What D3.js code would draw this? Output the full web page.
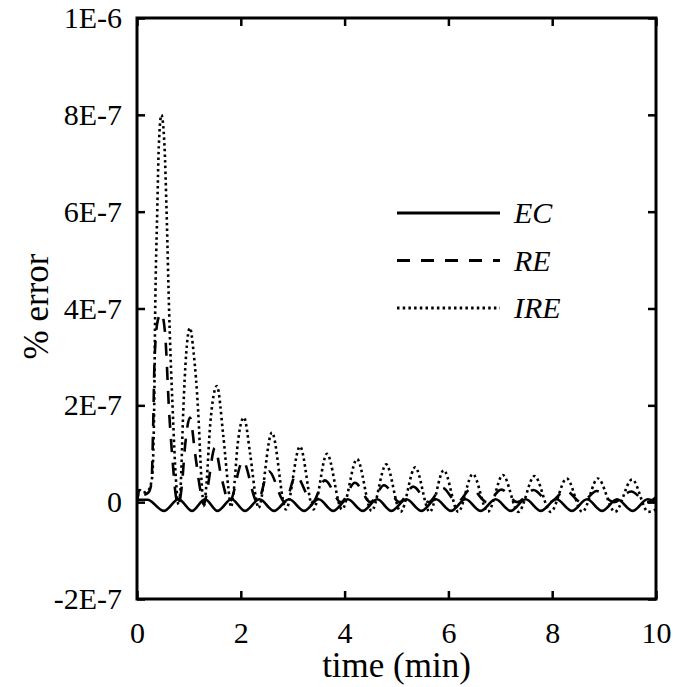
<!DOCTYPE html>
<html>
<head>
<meta charset="utf-8">
<script src="https://cdn.jsdelivr.net/npm/d3@7/dist/d3.min.js"></script>
<style>
  body { margin: 0; background: #fff; }
</style>
</head>
<body>
<div id="chart"></div>
<script>
// values in units of 1E-7 %, time in minutes
const ecData = [[0,0.05],[0.2,0.05],[0.52,-0.18],[0.8,0.06],[1.06,-0.18],[1.31,0.06],[1.55,-0.18],
  [1.82,0.06],[2.08,-0.18],[2.36,0.06],[2.64,-0.18],[2.93,0.06],[3.22,-0.18],[3.5,0.06],[3.78,-0.18],
  [4.06,0.06],[4.35,-0.18],[4.63,0.06],[4.9,-0.18],[5.19,0.06],[5.48,-0.18],[5.76,0.06],[6.05,-0.18],
  [6.33,0.06],[6.62,-0.18],[6.91,0.06],[7.2,-0.18],[7.49,0.06],[7.78,-0.18],[8.08,0.06],[8.38,-0.18],
  [8.67,0.06],[8.96,-0.18],[9.25,0.06],[9.55,-0.18],[9.84,0.06],[10,0.0]];

const reData = [[0,0.0],[0.06,0.3],[0.12,0.15],[0.22,0.2],[0.28,0.4],[0.31,1.5],[0.34,3.0],[0.40,3.75],
  [0.47,3.9],[0.54,3.5],[0.62,1.85],[0.69,0.8],[0.74,0.2],[0.80,-0.05],
  [0.86,0.3],[0.93,1.2],[1.02,1.75],[1.12,1.0],[1.22,0.25],[1.29,-0.05],
  [1.36,0.3],[1.50,1.12],[1.63,0.5],[1.78,0.0],
  [2.04,0.85],[2.32,0.0],[2.54,0.64],[2.85,0.0],[3.06,0.55],[3.38,0.0],[3.62,0.45],[3.93,0.0],
  [4.2,0.4],[4.5,0.0],[4.76,0.35],[5.06,0.0],[5.32,0.32],[5.62,0.0],[5.88,0.3],[6.17,0.0],
  [6.44,0.28],[6.74,0.0],[7.02,0.26],[7.33,0.0],[7.64,0.25],[7.95,0.0],[8.26,0.24],[8.56,0.0],
  [8.86,0.23],[9.19,0.0],[9.52,0.22],[9.83,0.0],[10,0.1]];

const ireData = [[0,0.0],[0.05,0.25],[0.12,0.2],[0.22,0.25],[0.29,0.5],[0.33,1.85],[0.35,3.9],[0.39,6.0],
  [0.42,7.35],[0.47,8.0],[0.53,7.35],[0.57,6.0],[0.62,3.9],[0.69,1.85],[0.75,0.47],[0.80,-0.05],
  [0.84,0.3],[0.89,1.85],[0.95,3.1],[1.02,3.6],[1.09,3.1],[1.18,1.85],[1.24,0.5],[1.29,-0.08],
  [1.34,0.4],[1.41,1.6],[1.54,2.4],[1.66,1.4],[1.76,0.3],[1.81,-0.1],
  [1.87,0.3],[1.94,1.2],[2.06,1.75],[2.18,1.0],[2.29,0.1],[2.34,-0.12],
  [2.6,1.44],[2.87,-0.15],[3.14,1.15],[3.40,-0.15],[3.66,1.0],[3.95,-0.15],[4.24,0.89],[4.52,-0.18],
  [4.80,0.78],[5.08,-0.2],[5.36,0.72],[5.64,-0.2],[5.91,0.66],[6.19,-0.2],[6.47,0.58],[6.76,-0.2],
  [7.05,0.56],[7.35,-0.2],[7.66,0.54],[7.97,-0.2],[8.28,0.49],[8.58,-0.2],[8.88,0.49],[9.21,-0.2],
  [9.54,0.47],[9.85,-0.2],[10,-0.15]];

const seriesNames = ["EC", "RE", "IRE"];
const xTicks = [0, 2, 4, 6, 8, 10];
const yTicks = [-2, 0, 2, 4, 6, 8, 10];
const yTickLabels = ["-2E-7", "0", "2E-7", "4E-7", "6E-7", "8E-7", "1E-6"];

const FONT = "'Liberation Serif', 'Times New Roman', Times, serif";
const width = 673, height = 687,
  margin = { top: 18, right: 17, bottom: 88, left: 137 };

const svg = d3.select("#chart").append("svg")
  .attr("width", width).attr("height", height)
  .style("font-family", FONT);

let xScale = d3.scaleLinear().domain([0, 10]).range([margin.left, width - margin.right]);
let yScale = d3.scaleLinear().domain([-2, 10]).range([height - margin.bottom, margin.top]);

svg.append("clipPath").attr("id", "plot")
  .append("rect")
  .attr("x", margin.left).attr("y", margin.top)
  .attr("width", width - margin.left - margin.right)
  .attr("height", height - margin.top - margin.bottom);

// Lines
let line = d3.line()
  .x(d => xScale(d[0]))
  .y(d => yScale(d[1]))
  .curve(d3.curveMonotoneX);

const styles = [
  { dash: null, w: 2.6 },
  { dash: "13,11", w: 2.6 },
  { dash: "2.5,3.2", w: 2.6 }
];
const allData = [ecData, reData, ireData];

const g = svg.append("g").attr("clip-path", "url(#plot)");
for (let i = 0; i < allData.length; ++i) {
  g.append("path")
    .attr("d", line(allData[i]))
    .attr("fill", "none")
    .attr("stroke", "#000")
    .attr("stroke-width", styles[i].w)
    .attr("stroke-dasharray", styles[i].dash);
}

// Axes (ticks point inward on every side)
const fmtY = d => yTickLabels[yTicks.indexOf(d)];
function styleAxis(sel) {
  sel.attr("font-family", null).attr("font-size", null);
  sel.select(".domain").remove();
  sel.selectAll(".tick line").attr("stroke-width", 2.5);
  sel.selectAll("text").style("font-size", "30px").style("font-family", FONT);
}

svg.append("g")
  .attr("transform", "translate(0," + yScale(-2) + ")")
  .call(d3.axisBottom(xScale).tickValues(xTicks).tickSize(-8).tickPadding(23).tickFormat(d3.format("d")))
  .call(styleAxis);
svg.append("g")
  .attr("transform", "translate(0," + yScale(10) + ")")
  .call(d3.axisTop(xScale).tickValues(xTicks).tickSize(-8).tickFormat(""))
  .call(styleAxis);
svg.append("g")
  .attr("transform", "translate(" + xScale(0) + ",0)")
  .call(d3.axisLeft(yScale).tickValues(yTicks).tickSize(-8).tickPadding(15).tickFormat(fmtY))
  .call(styleAxis);
svg.append("g")
  .attr("transform", "translate(" + xScale(10) + ",0)")
  .call(d3.axisRight(yScale).tickValues(yTicks).tickSize(-8).tickFormat(""))
  .call(styleAxis);

// Frame
svg.append("rect")
  .attr("x", xScale(0)).attr("y", yScale(10))
  .attr("width", xScale(10) - xScale(0))
  .attr("height", yScale(-2) - yScale(10))
  .attr("fill", "none").attr("stroke", "#000").attr("stroke-width", 3);

// Axis titles
svg.append("text")
  .attr("x", (xScale(0) + xScale(10)) / 2).attr("y", 677)
  .attr("text-anchor", "middle")
  .style("font-family", FONT).style("font-size", "35px")
  .text("time (min)");
svg.append("text")
  .attr("transform", "translate(48," + (yScale(4) - 2) + ") rotate(-90)")
  .attr("text-anchor", "middle")
  .style("font-family", FONT).style("font-size", "35px")
  .text("% error");

// Legend
for (let i = 0; i < seriesNames.length; ++i) {
  const ly = 213 + i * 47.5;
  svg.append("line")
    .attr("x1", 397).attr("x2", 500)
    .attr("y1", ly).attr("y2", ly)
    .attr("stroke", "#000").attr("stroke-width", 3)
    .attr("stroke-dasharray", styles[i].dash);
  svg.append("text")
    .attr("x", 514).attr("y", ly + 10)
    .style("font-family", FONT).style("font-size", "30px").style("font-style", "italic")
    .text(seriesNames[i]);
}
</script>
</body>
</html>
